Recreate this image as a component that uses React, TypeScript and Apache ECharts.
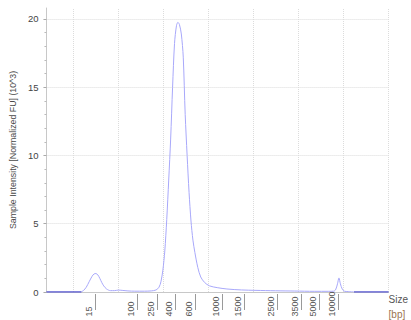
import React, { useEffect, useRef } from "react";
import * as echarts from "echarts";

// Migration-time axis (arbitrary units); gridlines every 1 unit
const xMin = 10.4;
const xMax = 18.0;
const gridTimes = [11, 12, 13, 14, 15, 16, 17, 18];

// Ladder sizes (bp) and the migration time where each sits
const ladderLabels = ["15", "100", "250", "400", "600", "1000", "1500", "2500", "3500", "5000", "10000"];
const ladderTimes = [11.478, 12.404, 12.857, 13.266, 13.697, 14.301, 14.797, 15.529, 16.047, 16.456, 16.887];

// Sample trace (time, intensity 10^3 FU)
const traceTimes = [
  11.176, 11.219, 11.284, 11.348, 11.413, 11.456, 11.499, 11.542, 11.585, 11.628, 11.672,
  11.736, 11.822, 11.909, 11.995, 12.081, 12.21, 12.361, 12.577, 12.728, 12.835,
  12.9, 12.943, 12.986, 13.029, 13.072, 13.116, 13.159, 13.202, 13.245, 13.288, 13.32,
  13.353, 13.396, 13.439, 13.482, 13.525, 13.568, 13.611, 13.654, 13.697, 13.762, 13.827,
  13.913, 14.021, 14.193, 14.409, 14.732, 15.055, 15.486, 15.917, 16.348, 16.672,
  16.779, 16.822, 16.866, 16.898, 16.93, 16.973, 17.016, 17.103, 17.232,
];
const traceValues = [
  0.02, 0.1, 0.35, 0.75, 1.15, 1.32, 1.35, 1.25, 1.0, 0.7, 0.45,
  0.22, 0.1, 0.1, 0.14, 0.12, 0.08, 0.06, 0.06, 0.08, 0.15,
  0.35, 0.75, 1.6, 3.0, 5.3, 8.2, 11.2, 15.0, 18.2, 19.5, 19.75,
  19.6, 18.9, 17.2, 13.0, 10.0, 7.3, 5.2, 3.8, 2.9, 1.8, 1.1,
  0.7, 0.45, 0.32, 0.22, 0.15, 0.12, 0.09, 0.07, 0.05, 0.05,
  0.06, 0.15, 0.6, 1.03, 0.6, 0.2, 0.06, 0.03, 0.0,
];

// Flat baseline segments outside the sample window
const baseLeftTimes = [10.4, 11.176];
const baseRightTimes = [17.232, 18.0];
const baseValues = [0, 0];

const yTicks = [0, 5, 10, 15, 20];
const FONT = "'Liberation Sans', Arial, sans-serif";

export default function App() {
  const ref = useRef<HTMLDivElement>(null);
  useEffect(() => {
    if (!ref.current) return;
    const chart = echarts.init(ref.current, null, { renderer: "svg" });
    const zip = (xs: number[], ys: number[]) => xs.map((x, i) => [x, ys[i]]);
    chart.setOption({
      animation: false,
      backgroundColor: "#ffffff",
      textStyle: { fontFamily: FONT },
      grid: { left: 44, right: 14, top: 8, bottom: 28 },
      xAxis: {
        type: "value",
        min: xMin,
        max: xMax,
        name: "{a|Size}\n{b|[bp]}",
        nameLocation: "end",
        nameGap: 0,
        nameTextStyle: {
          align: "left",
          verticalAlign: "top",
          rich: {
            a: { fontSize: 10, color: "#555", lineHeight: 15, fontFamily: FONT },
            b: { fontSize: 10, color: "#9a7450", lineHeight: 15, fontFamily: FONT },
          },
        },
        axisLine: { show: true, lineStyle: { color: "#c8c8c8", width: 1 } },
        axisTick: { show: false },
        axisLabel: { show: false },
        splitLine: { show: false },
      },
      yAxis: {
        type: "value",
        min: 0,
        max: 20.8,
        interval: 5,
        name: "Sample Intensity [Normalized FU] (10^3)",
        nameLocation: "middle",
        nameGap: 22,
        nameTextStyle: { fontSize: 8.8, color: "#4a4a4a", fontFamily: FONT },
        axisLine: { show: true, lineStyle: { color: "#c8c8c8", width: 1 } },
        axisTick: { show: true, length: 3, lineStyle: { color: "#aaa" }, customValues: yTicks },
        minorTick: { show: true, splitNumber: 5, length: 2, lineStyle: { color: "#bbb" } },
        axisLabel: {
          color: "#444",
          fontSize: 9.5,
          margin: 8,
          customValues: yTicks,
        },
        splitLine: {
          show: true,
          showMinLine: false,
          lineStyle: { color: "#dcdcdc", type: "dotted", width: 1 },
        },
      },
      series: [
        {
          type: "line",
          data: zip(traceTimes, traceValues),
          showSymbol: false,
          symbol: "none",
          smooth: 0.3,
          lineStyle: { color: "#a8a8fa", width: 1 },
          z: 3,
          markLine: {
            silent: true,
            symbol: "none",
            label: { show: false },
            lineStyle: { color: "#dcdcdc", type: "dotted", width: 1 },
            data: gridTimes.map((t) => ({ xAxis: t })),
            z: 1,
          },
        },
        {
          type: "line",
          data: zip(baseLeftTimes, baseValues),
          symbol: "none",
          lineStyle: { color: "#5a5ad2", width: 1.5 },
          z: 4,
        },
        {
          type: "line",
          data: zip(baseRightTimes, baseValues),
          symbol: "none",
          lineStyle: { color: "#5a5ad2", width: 1.5 },
          z: 4,
        },
        {
          type: "custom",
          clip: false,
          silent: true,
          data: ladderTimes.map((t) => [t, 0]),
          renderItem: (params: any, api: any) => {
            const p = api.coord([api.value(0), 0]);
            const x = Math.round(p[0]) + 0.5;
            return {
              type: "group",
              children: [
                {
                  type: "line",
                  shape: { x1: x, y1: p[1] + 2, x2: x, y2: p[1] + 18 },
                  style: { stroke: "#9a9a9a", lineWidth: 1 },
                },
                {
                  type: "text",
                  x: p[0] - 6,
                  y: p[1] + 24.5,
                  rotation: Math.PI / 2,
                  style: {
                    text: ladderLabels[params.dataIndex],
                    fontSize: 9,
                    fill: "#555",
                    fontFamily: FONT,
                    align: "left",
                    verticalAlign: "middle",
                  },
                },
              ],
            };
          },
        },
      ],
    });
    return () => chart.dispose();
  }, []);
  return (
    <div
      ref={ref}
      style={{ position: "fixed", left: 0, top: 0, width: 411, height: 320 }}
    />
  );
}
